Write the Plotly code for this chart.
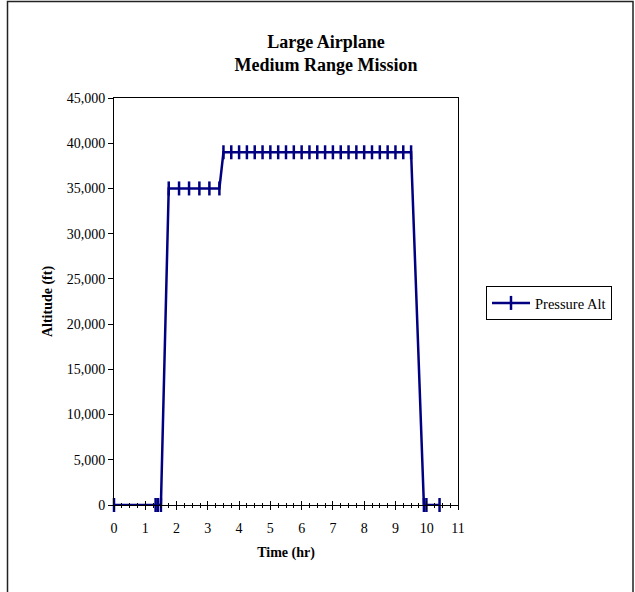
import plotly.graph_objects as go

# Mission profile: elapsed time (hr) and pressure altitude (ft)
time_hr = [0.00, 1.33, 1.40, 1.50,
           1.75, 2.08, 2.40, 2.73, 3.05, 3.37,
           3.50, 3.75, 4.00, 4.25, 4.50, 4.75, 5.00, 5.25, 5.50, 5.75,
           6.00, 6.25, 6.50, 6.75, 7.00, 7.25, 7.50, 7.75, 8.00, 8.25,
           8.50, 8.75, 9.00, 9.25, 9.50,
           9.91, 9.99, 10.41]
pressure_alt_ft = [0, 0, 0, 0,
                   35000, 35000, 35000, 35000, 35000, 35000,
                   39000, 39000, 39000, 39000, 39000, 39000, 39000, 39000, 39000, 39000,
                   39000, 39000, 39000, 39000, 39000, 39000, 39000, 39000, 39000, 39000,
                   39000, 39000, 39000, 39000, 39000,
                   0, 0, 0]

x_ticks = list(range(0, 12))
y_ticks = [0, 5000, 10000, 15000, 20000, 25000, 30000, 35000, 40000, 45000]

NAVY = "#000080"
FONT = "Liberation Serif"

fig = go.Figure()
fig.add_trace(go.Scatter(
    x=time_hr, y=pressure_alt_ft, name="Pressure Alt",
    mode="lines+markers", cliponaxis=False,
    line=dict(color=NAVY, width=2.5),
    marker=dict(symbol="line-ns", size=10, color=NAVY,
                line=dict(width=2.5, color=NAVY)),
))
# helper trace so the overlaid axis (inner half of the crossing ticks) is drawn
fig.add_trace(go.Scatter(x=[], y=[], xaxis="x2", showlegend=False, hoverinfo="skip"))

W, H = 635, 592
L, R, T, B = 114, 458, 98, 505
fig.update_layout(
    width=W, height=H,
    margin=dict(l=L, r=W - R, t=T, b=H - B),
    paper_bgcolor="white", plot_bgcolor="white",
    font=dict(family=FONT, size=14, color="black"),
    title=dict(text="<b>Large Airplane<br>Medium Range Mission</b>",
               x=326 / W, xref="container", xanchor="center",
               y=1 - 48 / H, yref="container", yanchor="top",
               font=dict(size=18, family=FONT, color="black")),
    showlegend=True,
    legend=dict(x=(486 - L) / (R - L), y=(B - 286) / (B - T),
                xanchor="left", yanchor="top",
                bordercolor="black", borderwidth=1, itemwidth=38,
                font=dict(size=14.5, family=FONT, color="black"),
                bgcolor="white"),
    xaxis=dict(range=[0, 11], tickvals=x_ticks, ticktext=[str(v) for v in x_ticks],
               ticks="outside", ticklen=4, tickwidth=1, tickcolor="black",
               ticklabelstandoff=6,
               minor=dict(dtick=0.25, ticks="outside", ticklen=2, tickcolor="black", showgrid=False),
               showline=True, linecolor="black", linewidth=1, mirror=True,
               showgrid=False, zeroline=False,
               title=dict(text="<b>Time (hr)</b>", font=dict(size=14, family=FONT), standoff=12)),
    xaxis2=dict(range=[0, 11], overlaying="x", anchor="y", side="bottom",
                tickvals=x_ticks, ticks="inside", ticklen=4, tickwidth=1, tickcolor="black",
                minor=dict(dtick=0.25, ticks="inside", ticklen=2, tickcolor="black", showgrid=False),
                showticklabels=False, showline=False, showgrid=False, zeroline=False),
    yaxis=dict(range=[0, 45000], tickvals=y_ticks, tickformat=",",
               ticks="outside", ticklen=5, tickwidth=1, tickcolor="black",
               showline=True, linecolor="black", linewidth=1, mirror=True,
               showgrid=False, zeroline=False,
               title=dict(text="<b>Altitude (ft)</b>", font=dict(size=14, family=FONT), standoff=10)),
)

# chart-area frame
fig.add_shape(type="rect", xref="paper", yref="paper",
              x0=(7.5 - L) / (R - L), x1=(633 - L) / (R - L),
              y0=(B - 600) / (B - T), y1=(B - 1.5) / (B - T),
              line=dict(color="#222222", width=1.5), fillcolor="rgba(0,0,0,0)", layer="below")

fig.write_html("out.html")
